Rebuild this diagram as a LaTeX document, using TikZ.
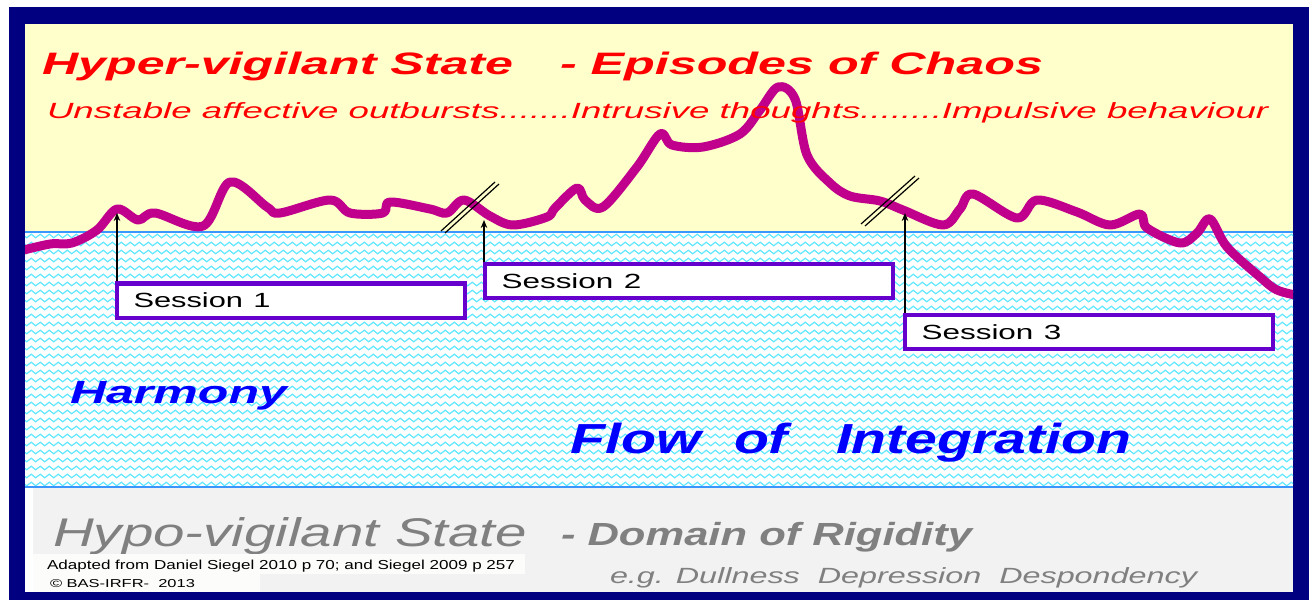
\documentclass[tikz,border=0pt]{standalone}
\usepackage{fontspec}
\setmainfont{Liberation Sans}
\usepackage{graphicx}
\usetikzlibrary{decorations.pathmorphing, arrows.meta}

\definecolor{framenavy}{RGB}{0,0,128}
\definecolor{chaosbg}{RGB}{255,255,204}
\definecolor{rigidbg}{RGB}{242,242,242}
\definecolor{wavecyan}{RGB}{100,232,255}
\definecolor{edgeblue}{RGB}{60,150,255}
\definecolor{curvemag}{RGB}{192,0,140}
\definecolor{sessionpurple}{RGB}{102,0,204}
\definecolor{chaosred}{RGB}{255,0,0}
\definecolor{flowblue}{RGB}{0,0,255}
\definecolor{rigidgray}{RGB}{128,128,128}
\definecolor{notewhite}{RGB}{252,252,250}

% widen a piece of text to a given width, keeping its height
\newcommand{\stretchto}[2]{\resizebox{#1}{\height}{#2}}

\tikzset{
  lbl/.style={anchor=base west, inner sep=0pt, outer sep=0pt},
  sessionbox/.style={draw=sessionpurple, line width=4.5pt, fill=white,
    inner xsep=16.5pt, inner ysep=0pt, align=left,
    font=\fontsize{20.5}{20.5}\selectfont, text height=14.8pt, text depth=0pt},
  pointer/.style={draw=black, line width=1.4pt, -{Stealth[length=8pt,width=6.5pt]}},
  breakmark/.style={draw=black, line width=1.2pt},
  waveline/.style={draw=wavecyan, line width=1.2pt, decorate,
    decoration={zigzag, segment length=9pt, amplitude=1.8pt}},
}

\begin{document}
\begin{tikzpicture}[x=1pt, y=-1pt]
\useasboundingbox (0,0) rectangle (1313,600);

% frame and the three bands
\fill[framenavy] (9,7) rectangle (1309,600);
\fill[white] (25,24) rectangle (1293,592);
\fill[chaosbg] (25,24) rectangle (1293,232);
\fill[rigidbg] (33,488) rectangle (1293,592);

% window of integration: wavy water
\begin{scope}
  \clip (25,232) rectangle (1293,487);
  \foreach \r in {236,244,...,488}
    \draw[waveline] (20,\r) -- (1300,\r);
\end{scope}
\draw[edgeblue, line width=1.2pt] (25,232) -- (1293,232);
\draw[edgeblue, line width=1.8pt] (25,487) -- (1293,487);

% arousal curve
\begin{scope}
  \clip (25,24) rectangle (1293,592);
  \draw[curvemag, line width=9pt, line cap=round, line join=round]
    plot[smooth, tension=0.55] coordinates {
      (20,251) (50,244) (72,243) (97,230) (117,209) (138,220) (155,213)
      (203,226) (230,182) (267,207) (280,213) (330,200) (350,213) (383,213)
      (390,202) (430,209) (447,213) (464,200) (490,216) (513,225) (547,217)
      (555,208) (577,188) (585,200) (603,207) (637,167) (660,134) (672,145)
      (703,147) (740,134) (760,110) (778,87) (795,99) (807,155) (830,183)
      (850,196) (880,201) (903,210) (943,225) (960,209) (973,194) (1017,218)
      (1037,200) (1077,212) (1110,225) (1140,214) (1147,228) (1180,243)
      (1197,233) (1210,219) (1227,247) (1260,277) (1277,290) (1300,296)};
\end{scope}

% break marks on the curve
\draw[breakmark] (441,231) -- (495,182);
\draw[breakmark] (445,233) -- (499,184);
\draw[breakmark] (861,224) -- (915,176);
\draw[breakmark] (865,226) -- (919,178);

% titles of the upper band
\node[lbl, text=chaosred, font=\fontsize{31}{31}\selectfont\bfseries\itshape] (t1) at (42,74)
  {\stretchto{471pt}{Hyper-vigilant State}};
\node[lbl, text=chaosred, font=\fontsize{31}{31}\selectfont\bfseries\itshape] (t2) at (560,74)
  {\stretchto{483pt}{- Episodes of Chaos}};
\node[lbl, text=chaosred, font=\fontsize{22}{22}\selectfont\itshape] (t3) at (47,118)
  {\stretchto{1221pt}{Unstable affective outbursts.......Intrusive thoughts........Impulsive behaviour}};

% sessions
\node[sessionbox, minimum height=34.5pt, text width=315pt] (s1) at (291,300.5)
  {\stretchto{137pt}{Session 1}};
\node[sessionbox, minimum height=34pt, text width=375pt] (s2) at (689,281)
  {\stretchto{140pt}{Session 2}};
\node[sessionbox, minimum height=34pt, text width=335pt] (s3) at (1089,332)
  {\stretchto{140pt}{Session 3}};

\coordinate (p1) at (117,213);
\coordinate (p2) at (484,220);
\coordinate (p3) at (905,213);
\draw[pointer] (p1 |- s1.north) -- (p1);
\draw[pointer] (p2 |- s2.north) -- (p2);
\draw[pointer] (p3 |- s3.north) -- (p3);

% labels of the middle band
\node[lbl, text=flowblue, font=\fontsize{32}{32}\selectfont\bfseries\itshape] (h) at (70,403)
  {\stretchto{217pt}{Harmony}};
\node[lbl, text=flowblue, font=\fontsize{42}{42}\selectfont\bfseries\itshape] (f1) at (570,453)
  {\stretchto{131pt}{Flow}};
\node[lbl, text=flowblue, font=\fontsize{42}{42}\selectfont\bfseries\itshape] (f2) at (734,453)
  {\stretchto{54pt}{of}};
\node[lbl, text=flowblue, font=\fontsize{42}{42}\selectfont\bfseries\itshape] (f3) at (836,453)
  {\stretchto{295pt}{Integration}};

% lower band
\node[lbl, text=rigidgray, font=\fontsize{40}{40}\selectfont\itshape] (r1) at (53,546)
  {\stretchto{474pt}{Hypo-vigilant State}};
\node[lbl, text=rigidgray, font=\fontsize{32}{32}\selectfont\bfseries\itshape] (r2) at (561,545)
  {\stretchto{411pt}{- Domain of Rigidity}};
\node[lbl, text=rigidgray, font=\fontsize{22}{22}\selectfont\itshape] (r3) at (610,583)
  {\stretchto{587pt}{e.g. Dullness\ \ Depression\ \ Despondency}};

% source notes
\fill[notewhite] (33,554) rectangle (525,574);
\fill[notewhite] (33,574) rectangle (260,592);
\node[lbl, text=black, font=\fontsize{13}{13}\selectfont] (n1) at (47,569)
  {\stretchto{468pt}{Adapted from Daniel Siegel 2010 p 70; and Siegel 2009 p 257}};
\node[lbl, text=black, font=\fontsize{11.5}{11.5}\selectfont] (n2) at (50,587)
  {\stretchto{145pt}{© BAS-IRFR-\ \ 2013}};
\end{tikzpicture}
\end{document}
